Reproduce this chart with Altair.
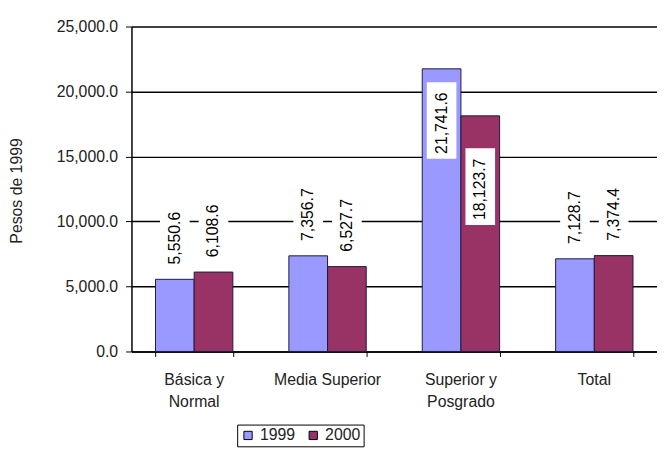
import altair as alt
import pandas as pd

categories = ["Básica y Normal", "Media Superior", "Superior y Posgrado", "Total"]
years = ["1999", "2000"]
values_1999 = [5550.6, 7356.7, 21741.6, 7128.7]
values_2000 = [6108.6, 6527.7, 18123.7, 7374.4]
# where each data label's white box starts (value axis units)
label_at_1999 = [6310, 8117, 14818, 7889]
label_at_2000 = [6870, 7290, 9726, 8135]

rows = []
for i, c in enumerate(categories):
    rows.append({"category": c, "year": "1999", "value": values_1999[i], "label_at": label_at_1999[i]})
    rows.append({"category": c, "year": "2000", "value": values_2000[i], "label_at": label_at_2000[i]})
df = pd.DataFrame(rows)
cat_df = pd.DataFrame({"category": categories, "label": [c.replace(" y ", " y|") for c in categories]})

FONT = "Liberation Sans"
FS = 16

xscale = alt.Scale(paddingInner=0.42, paddingOuter=0.18)
xenc = alt.X(
    "category:N",
    sort=categories,
    scale=xscale,
    axis=alt.Axis(
        title=None,
        labels=False,
        tickBand="extent",
        tickSize=5,
        tickColor="black",
        domainColor="black",
        domainWidth=1.5,
    ),
)
xoff = alt.XOffset("year:N", sort=years, scale=alt.Scale(paddingInner=0, paddingOuter=0))

color = alt.Color(
    "year:N",
    sort=years,
    scale=alt.Scale(domain=years, range=["#9999FF", "#993366"]),
    legend=alt.Legend(
        title=None,
        orient="none",
        legendX=107,
        legendY=403,
        direction="horizontal",
        strokeColor="black",
        padding=3,
        symbolType="square",
        symbolSize=70,
        symbolStrokeColor="black",
        symbolStrokeWidth=1,
        labelFont=FONT,
        labelFontSize=FS,
        labelColor="#222",
    ),
)

yenc = alt.Y(
    "value:Q",
    scale=alt.Scale(domain=[0, 25000], nice=False),
    axis=alt.Axis(
        title="Pesos de 1999",
        values=[0, 5000, 10000, 15000, 20000, 25000],
        format=",.1f",
        grid=True,
        gridColor="black",
        gridWidth=1.5,
        domainColor="black",
        domainWidth=1.5,
        tickColor="black",
        tickSize=6,
        labelPadding=8,
        labelFont=FONT,
        labelFontSize=FS,
        labelColor="#222",
        titleFont=FONT,
        titleFontSize=FS,
        titleFontWeight="normal",
        titleColor="#222",
        titleX=-116,
        titleY=166,
        titleAngle=270,
        titleAlign="center",
        titleBaseline="middle",
    ),
)

base = alt.Chart(df).encode(x=xenc, xOffset=xoff)

bars = base.mark_bar(stroke="#1a1a40", strokeWidth=1).encode(y=yenc, color=color)

boxes = base.transform_calculate(hi="datum.label_at + 5900").mark_bar(
    color="white", width=30
).encode(y=alt.Y("label_at:Q"), y2="hi:Q")

labels = base.mark_text(
    angle=270, align="left", baseline="middle", dx=5, font=FONT, fontSize=FS, color="black"
).encode(y=alt.Y("label_at:Q"), text=alt.Text("value:Q", format=",.1f"))

cat_labels = alt.Chart(cat_df).mark_text(
    lineBreak="|", baseline="top", align="center", font=FONT, fontSize=FS, lineHeight=22, color="#222"
).encode(
    x=alt.X("category:N", sort=categories, scale=xscale),
    y=alt.value(350),
    text="label:N",
)

chart = (
    alt.layer(bars, boxes, labels, cat_labels)
    .properties(
        width=532,
        height=329,
        autosize=alt.AutoSizeParams(type="none"),
        padding={"left": 125, "top": 16, "right": 0, "bottom": 95},
    )
    .configure_view(stroke=None)
)

chart.save("out.html", embed_options={"renderer": "svg", "actions": False})
